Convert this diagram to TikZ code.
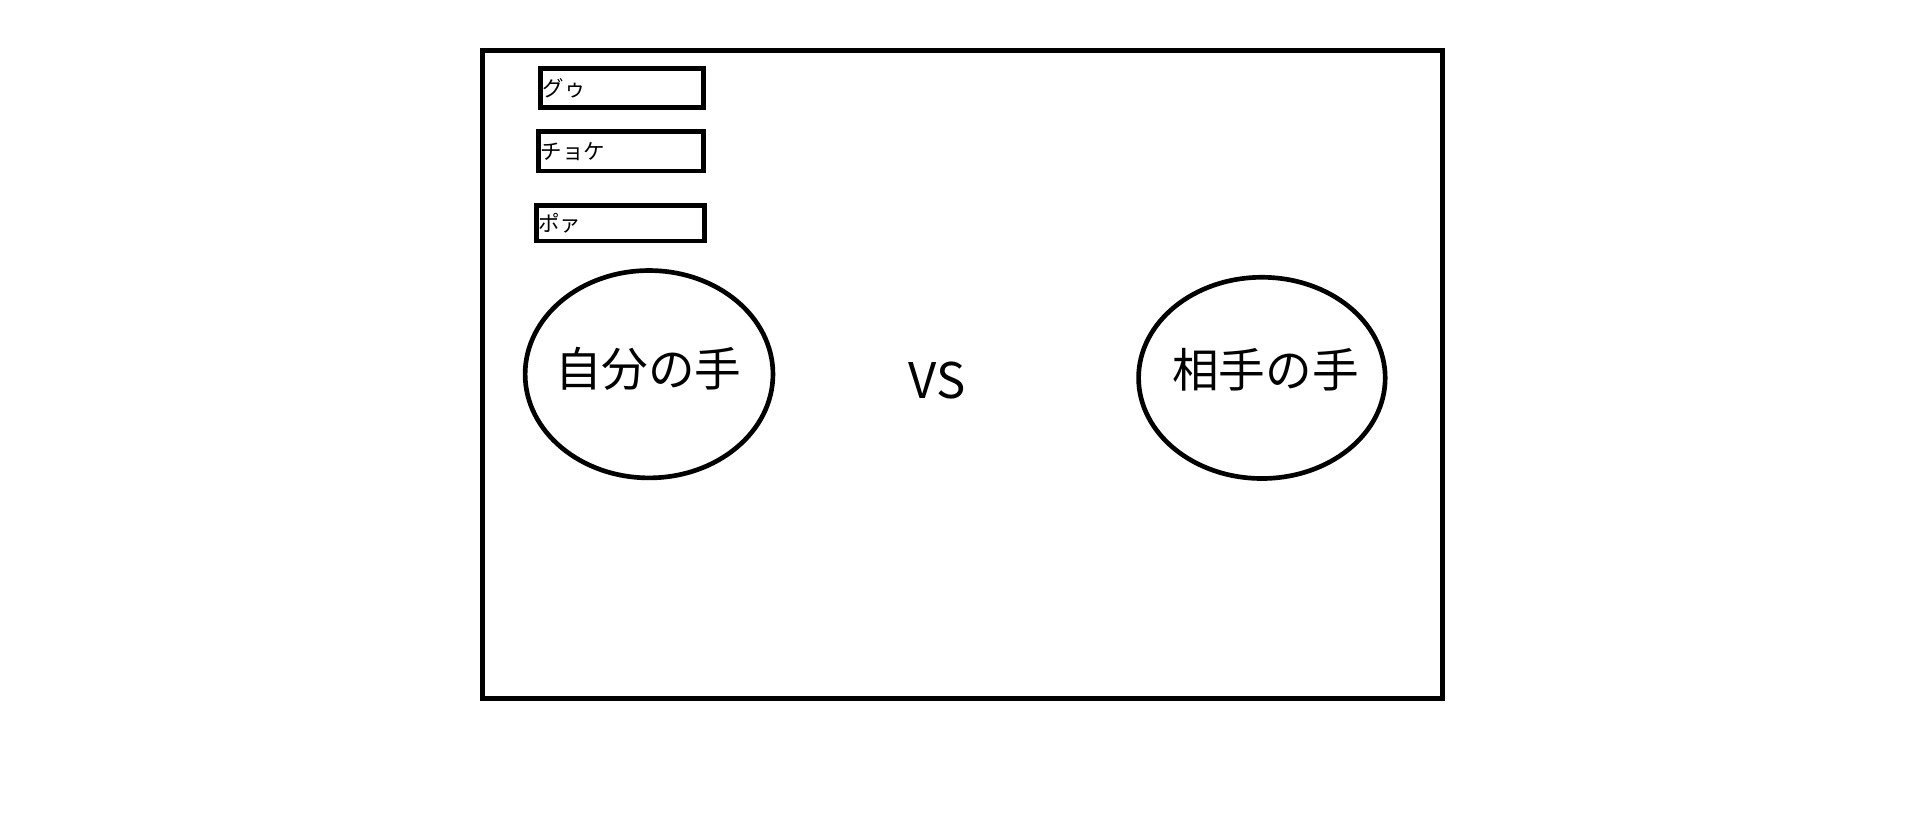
\documentclass[tikz,border=0pt]{standalone}
\usepackage{fontspec}
\setmainfont{Noto Sans CJK JP}
\usetikzlibrary{shapes.geometric}
\begin{document}
\begin{tikzpicture}[x=1pt,y=-1pt,
  frame/.style={draw,line width=4pt,rectangle,minimum width=782.8pt,minimum height=528pt,inner sep=0pt},
  handbox/.style={draw,line width=3.8pt,rectangle,inner sep=0pt},
  boxtext/.style={anchor=west,inner sep=0pt,font=\fontsize{17.5}{17.5}\selectfont},
  hand/.style={draw,line width=3.8pt,ellipse,inner sep=0pt},
  handtext/.style={inner sep=0pt,font=\fontsize{38}{38}\selectfont},
  vstext/.style={inner sep=0pt,font=\fontsize{40}{40}\selectfont}]
\useasboundingbox (0,0) rectangle (1560,678);
\node[frame] (outer) at (784.6,305) {};
\node[handbox,minimum width=132.8pt,minimum height=32.1pt] (guu) at (507.1,71.75) {};
\node[boxtext] (guut) at ([xshift=3.5pt]guu.west) {グゥ};
\node[handbox,minimum width=134.7pt,minimum height=32.1pt] (choki) at (506.15,123.35) {};
\node[boxtext] (chokit) at ([xshift=3.5pt]choki.west) {チョケ};
\node[handbox,minimum width=137pt,minimum height=28.8pt] (paa) at (505.6,182) {};
\node[boxtext] (paat) at ([xshift=3.5pt]paa.west) {ポァ};
\node[hand,minimum width=202pt,minimum height=169pt] (mine) at (529,305) {};
\node[handtext] (minet) at (528.4,300.5) {自分の手};
\node[vstext] (vs) at (764,310.5) {VS};
\node[hand,minimum width=201pt,minimum height=164pt] (theirs) at (1028.5,308) {};
\node[handtext] (theirst) at (1031.5,301.7) {相手の手};
\end{tikzpicture}
\end{document}
